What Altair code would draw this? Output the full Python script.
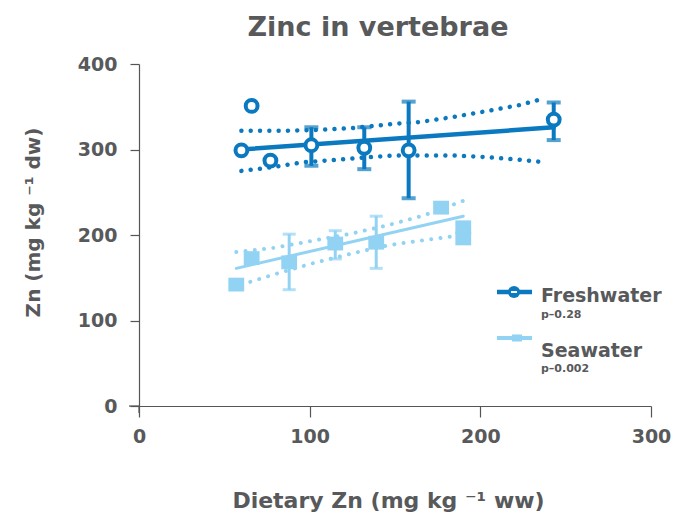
import altair as alt
import pandas as pd

DARK = "#0b79bf"
LIGHT = "#92d3f4"
GREY = "#58595b"
AXIS = "#555555"
FONT = "DejaVu Sans"

# ---- Freshwater ----
fw_x = [60, 66, 77, 101, 132, 158, 243]
fw_y = [299, 351, 287, 305, 302, 299, 335]
fw_err_x = [101, 132, 158, 243]
fw_err_lo = [281, 277, 243, 311]
fw_err_hi = [326, 326, 356, 355]
fw_fit_x = [60, 243]
fw_fit_y = [300, 326]
fw_up_x = [60, 86, 106, 125, 149, 164, 184, 204, 223, 236]
fw_up_y = [322, 322, 323, 325, 330, 332, 338, 345, 352, 359]
fw_lo_x = [60, 77, 96, 116, 135, 149, 164, 184, 204, 223, 238]
fw_lo_y = [275, 279, 285, 288, 291, 293, 293, 293, 291, 288, 285]

# ---- Seawater ----
sw_x = [57, 66, 88, 115, 139, 177, 190, 190]
sw_y = [142, 173, 168, 190, 191, 232, 209, 196]
sw_err_x = [88, 115, 139]
sw_err_lo = [136, 172, 161]
sw_err_hi = [201, 205, 222]
sw_fit_x = [57, 190]
sw_fit_y = [161, 222]
sw_up_x = [57, 79, 101, 123, 145, 167, 190]
sw_up_y = [180, 185, 193, 201, 211, 223, 240]
sw_lo_x = [60, 81, 102, 124, 146, 167, 186]
sw_lo_y = [142, 155, 167, 178, 188, 194, 199]

leg_labels = ["Freshwater", "Seawater"]
leg_p = ["p\u20130.28", "p\u20130.002"]
x_ticks = [0, 100, 200, 300]
y_ticks = [0, 100, 200, 300, 400]

W, H = 512, 342

xs = alt.Scale(domain=[0, 300], nice=False, zero=False)
ys = alt.Scale(domain=[0, 400], nice=False, zero=False)

x_axis = alt.Axis(values=x_ticks, title="Dietary Zn (mg kg \u207b\u00b9 ww)", grid=False,
                  tickSize=11, labelPadding=10, labelFontSize=19, labelFont=FONT,
                  labelFontWeight="bold", labelColor=GREY, domainColor=AXIS, tickColor=AXIS,
                  domainWidth=1.2, tickWidth=1.2, titleFont=FONT, titleFontSize=22,
                  titleFontWeight="bold", titleColor=GREY, titleX=249, titleY=94,
                  titleAlign="center", titleBaseline="middle", labelFlush=False)
y_axis = alt.Axis(values=y_ticks, title="Zn (mg kg \u207b\u00b9 dw)", grid=False,
                  tickSize=9, labelPadding=13, labelFontSize=19, labelFont=FONT,
                  labelFontWeight="bold", labelColor=GREY, domainColor=AXIS, tickColor=AXIS,
                  domainWidth=1.2, tickWidth=1.2, titleFont=FONT, titleFontSize=20,
                  titleFontWeight="bold", titleColor=GREY, titleX=-106, titleY=158,
                  titleAlign="center", titleBaseline="middle", titleAngle=-90,
                  labelFlush=False)


def X(f):
    return alt.X(f, scale=xs, axis=x_axis)


def Y(f):
    return alt.Y(f, scale=ys, axis=y_axis)


def df(**cols):
    return pd.DataFrame(cols)


def line(xv, yv, color, width, dotted=False):
    kw = dict(color=color, strokeWidth=width, strokeCap="round")
    if dotted:
        kw["strokeDash"] = [0.01, 9.3]
    return alt.Chart(df(x=xv, y=yv)).mark_line(**kw).encode(x=X("x:Q"), y=Y("y:Q"))


def errbars(xv, lo, hi, color, width, cap):
    d = df(x=xv, lo=lo, hi=hi)
    base = alt.Chart(d)
    r = base.mark_rule(color=color, strokeWidth=width).encode(
        x=X("x:Q"), y=Y("lo:Q"), y2="hi:Q")
    t1 = base.mark_tick(color=color, thickness=width, size=cap, orient="horizontal").encode(
        x=X("x:Q"), y=Y("lo:Q"))
    t2 = base.mark_tick(color=color, thickness=width, size=cap, orient="horizontal").encode(
        x=X("x:Q"), y=Y("hi:Q"))
    return r + t1 + t2


fw_up = line(fw_up_x, fw_up_y, DARK, 4.5, dotted=True)
fw_lo = line(fw_lo_x, fw_lo_y, DARK, 4.5, dotted=True)
fw_fit = line(fw_fit_x, fw_fit_y, DARK, 4.5)
sw_up = line(sw_up_x, sw_up_y, LIGHT, 4, dotted=True)
sw_lo = line(sw_lo_x, sw_lo_y, LIGHT, 4, dotted=True)
sw_fit = line(sw_fit_x, sw_fit_y, LIGHT, 3)

fw_err = errbars(fw_err_x, fw_err_lo, fw_err_hi, DARK, 4, 14)
sw_err = errbars(sw_err_x, sw_err_lo, sw_err_hi, LIGHT, 3, 13)

fw_pts = alt.Chart(df(x=fw_x, y=fw_y)).mark_point(
    shape="circle", filled=False, fill="white", fillOpacity=1, stroke=DARK,
    strokeWidth=4, size=140, opacity=1).encode(x=X("x:Q"), y=Y("y:Q"))
sw_pts = alt.Chart(df(x=sw_x, y=sw_y)).mark_point(
    shape="M-1,-0.875L1,-0.875L1,0.875L-1,0.875Z", filled=True, color=LIGHT, size=250,
    opacity=1, strokeWidth=0).encode(x=X("x:Q"), y=Y("y:Q"))

# axis extensions (axes cross slightly past the origin)
one = pd.DataFrame({"k": [0]})
ext_x = alt.Chart(one).mark_rule(color=AXIS, strokeWidth=1.2).encode(
    x=alt.value(-10), x2=alt.value(0), y=alt.value(H))
ext_y = alt.Chart(one).mark_rule(color=AXIS, strokeWidth=1.2).encode(
    x=alt.value(0), y=alt.value(H), y2=alt.value(H + 7))

# custom legend
lg1_line = alt.Chart(one).mark_rule(color=DARK, strokeWidth=4.5).encode(
    x=alt.value(358), x2=alt.value(393), y=alt.value(228))
lg1_sym = alt.Chart(one).mark_point(shape="circle", filled=True, color=DARK, size=150,
                                    opacity=1).encode(x=alt.value(375), y=alt.value(228))
lg1_dash = alt.Chart(one).mark_rule(color="white", strokeWidth=2).encode(
    x=alt.value(372), x2=alt.value(378), y=alt.value(228))
lg2_line = alt.Chart(one).mark_rule(color=LIGHT, strokeWidth=4).encode(
    x=alt.value(358), x2=alt.value(393), y=alt.value(274))
lg2_sym = alt.Chart(one).mark_rect(color=LIGHT).encode(
    x=alt.value(373), x2=alt.value(383), y=alt.value(270.5), y2=alt.value(277.5))

leg_df = pd.DataFrame({"label": leg_labels, "p": leg_p})


def legtext(i, field, y, size):
    return alt.Chart(leg_df.iloc[[i]]).mark_text(
        align="left", baseline="alphabetic", font=FONT, fontWeight="bold",
        fontSize=size, color=GREY).encode(
        x=alt.value(402), y=alt.value(y), text=f"{field}:N")


lg_txt = (legtext(0, "label", 238, 19) + legtext(0, "p", 254, 11)
          + legtext(1, "label", 292.5, 19) + legtext(1, "p", 307.5, 11))

chart = alt.layer(
    fw_up, fw_lo, sw_up, sw_lo, fw_fit, sw_fit, fw_err, sw_err, fw_pts, sw_pts,
    ext_x, ext_y, lg1_line, lg1_sym, lg1_dash, lg2_line, lg2_sym, lg_txt,
).properties(
    width=W, height=H,
    title=alt.TitleParams("Zinc in vertebrae", font=FONT, fontSize=27, fontWeight="bold",
                          color=GREY, anchor="middle", frame="group", offset=0, dx=-17,
                          dy=8, baseline="alphabetic"),
    padding={"left": 139, "top": 64, "right": 29, "bottom": 110},
    autosize=alt.AutoSizeParams(type="none"),
    background="white",
).configure_view(strokeWidth=0, stroke=None)

chart.save("out.html", embed_options={"renderer": "svg", "actions": False})
